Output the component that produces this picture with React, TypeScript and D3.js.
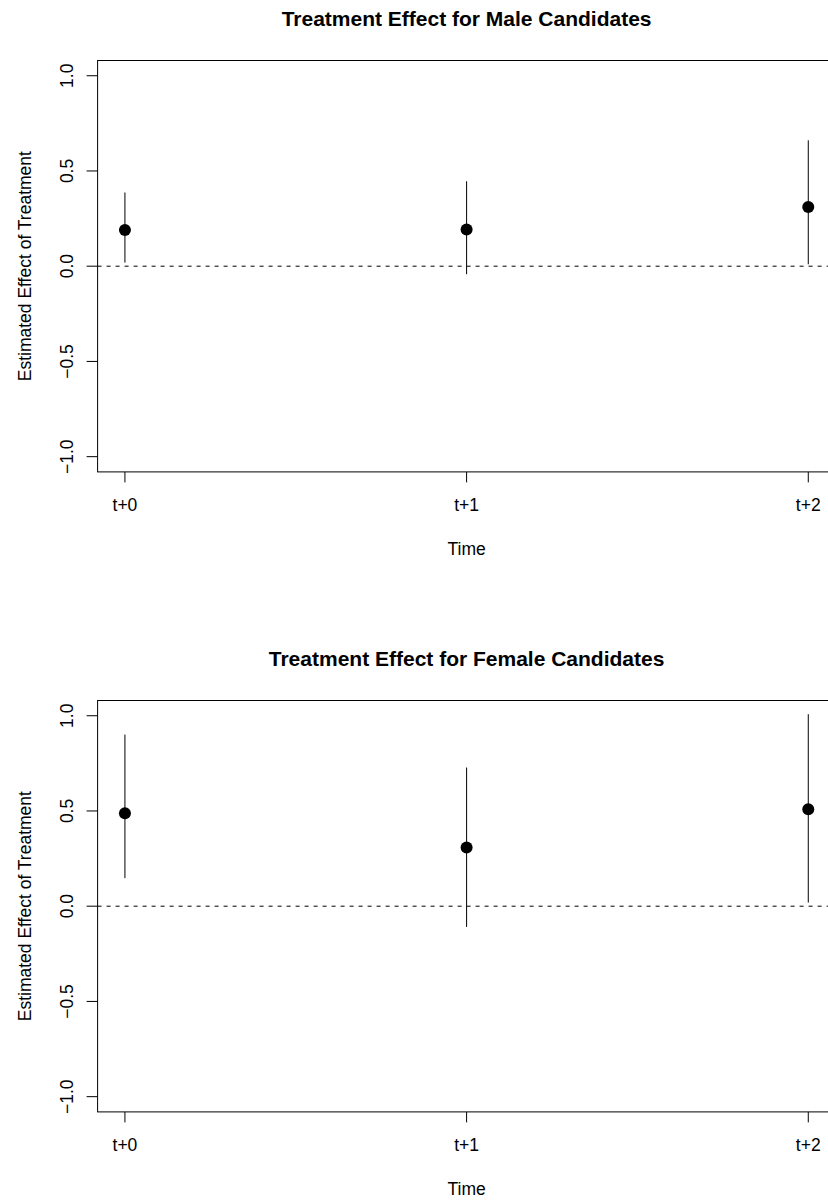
import React from "react";
import * as d3 from "d3";

const times = ["t+0", "t+1", "t+2"];
const yTicks = [-1.0, -0.5, 0.0, 0.5, 1.0];

const maleEst = [0.19, 0.193, 0.311];
const maleLo = [0.019, -0.042, 0.01];
const maleHi = [0.387, 0.446, 0.661];

const femaleEst = [0.488, 0.308, 0.509];
const femaleLo = [0.147, -0.109, 0.019];
const femaleHi = [0.901, 0.728, 1.008];

const panels = [
  { title: "Treatment Effect for Male Candidates", est: maleEst, lo: maleLo, hi: maleHi },
  { title: "Treatment Effect for Female Candidates", est: femaleEst, lo: femaleLo, hi: femaleHi },
];

const W = 828;
const H = 1203;
const PANEL_H = 640;
const FONT = "'Liberation Sans', Arial, Helvetica, sans-serif";
const AXIS_FS = 17.5;
const TITLE_FS = 21;

function Panel({ p, offset }: { p: (typeof panels)[number]; offset: number }) {
  const x = d3.scaleLinear().domain([-0.08, 2.08]).range([97.6, 835.6]);
  const y = d3.scaleLinear().domain([-1.08, 1.08]).range([471.9, 60.5]);
  const [x0, x1] = x.range();
  const [yb, yt] = y.range();
  const cx = (x0 + x1) / 2;
  const cy = (yb + yt) / 2;
  return (
    <g transform={`translate(0,${offset})`}>
      <text x={cx} y={26} textAnchor="middle" fontFamily={FONT} fontWeight="bold" fontSize={TITLE_FS}>
        {p.title}
      </text>
      <line x1={x0} x2={x1} y1={y(0)} y2={y(0)} stroke="#000" strokeWidth={1} strokeDasharray="4,5" />
      {p.est.map((v, i) => (
        <g key={i}>
          <line x1={x(i)} x2={x(i)} y1={y(p.lo[i])} y2={y(p.hi[i])} stroke="#000" strokeWidth={1} />
          <circle cx={x(i)} cy={y(v)} r={6} fill="#000" />
        </g>
      ))}
      <rect x={x0} y={yt} width={x1 - x0} height={yb - yt} fill="none" stroke="#000" strokeWidth={1} />
      {times.map((t, i) => (
        <g key={t}>
          <line x1={x(i)} x2={x(i)} y1={yb} y2={yb + 10.5} stroke="#000" strokeWidth={1} />
          <text x={x(i)} y={511} textAnchor="middle" fontFamily={FONT} fontSize={AXIS_FS}>
            {t}
          </text>
        </g>
      ))}
      {yTicks.map((t) => (
        <g key={t}>
          <line x1={x0 - 11} x2={x0} y1={y(t)} y2={y(t)} stroke="#000" strokeWidth={1} />
          <text
            transform={`translate(72.5,${y(t)}) rotate(-90)`}
            textAnchor="middle"
            fontFamily={FONT}
            fontSize={AXIS_FS}
          >
            {t < 0 ? "\u2212" + Math.abs(t).toFixed(1) : t.toFixed(1)}
          </text>
        </g>
      ))}
      <text x={cx} y={555} textAnchor="middle" fontFamily={FONT} fontSize={AXIS_FS}>
        Time
      </text>
      <text
        transform={`translate(31,${cy}) rotate(-90)`}
        textAnchor="middle"
        fontFamily={FONT}
        fontSize={AXIS_FS}
      >
        Estimated Effect of Treatment
      </text>
    </g>
  );
}

export default function App() {
  return (
    <svg
      width={W}
      height={H}
      viewBox={`0 0 ${W} ${H}`}
      style={{ position: "absolute", left: 0, top: 0, background: "#fff" }}
    >
      <rect x={0} y={0} width={W} height={H} fill="#fff" />
      {panels.map((p, i) => (
        <Panel key={i} p={p} offset={i * PANEL_H} />
      ))}
    </svg>
  );
}
